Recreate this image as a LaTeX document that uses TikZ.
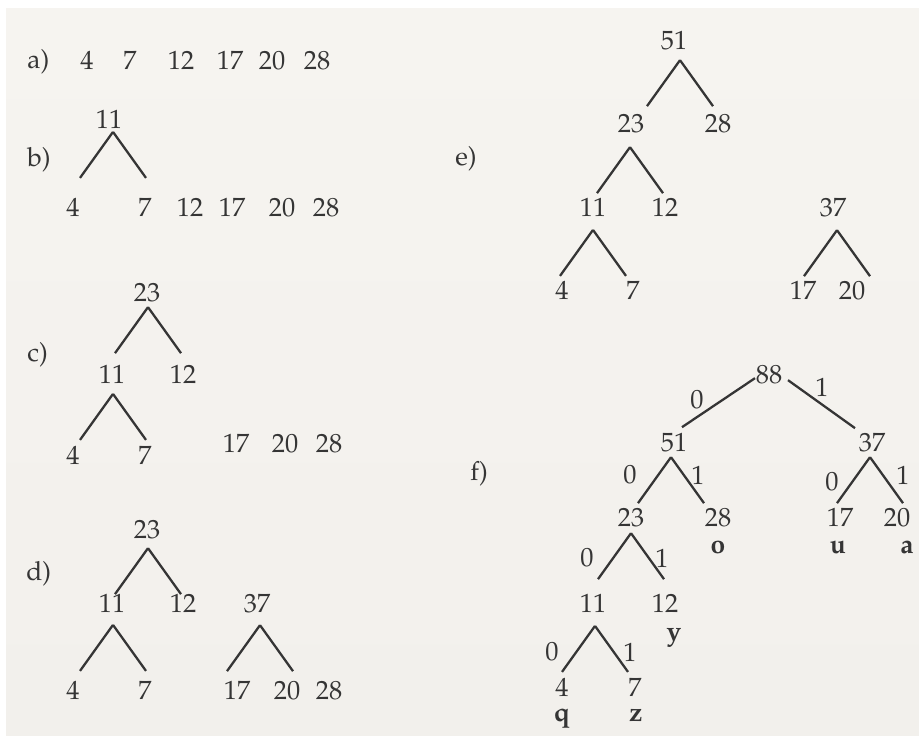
\documentclass[tikz,border=0pt]{standalone}
\usepackage[T1]{fontenc}
\usepackage{mathpazo}
\definecolor{ink}{HTML}{353535}
\definecolor{paperTop}{HTML}{F6F4F0}
\definecolor{paperMid}{HTML}{E7E5E1}
\definecolor{paperBot}{HTML}{F2F0EC}
% fork below a parent: node, apex offset dx, dy
\newcommand{\fork}[3]{%
  \draw[edge] ([shift={(#2,#3)}]#1.center) coordinate (#1-top) -- ++(-33,46) coordinate (#1-l)
    (#1-top) -- ++(33,46) coordinate (#1-r);}
\begin{document}
\begin{tikzpicture}[x=0.02cm,y=-0.02cm,font=\fontsize{15}{18}\selectfont,
num/.style={anchor=base,inner sep=0pt,text=ink},
tag/.style={anchor=base west,inner sep=0pt,text=ink},
bit/.style={inner sep=0pt,text=ink},
sym/.style={anchor=base,inner sep=0pt,text=ink,font=\fontsize{15}{18}\selectfont\bfseries},
edge/.style={draw=ink,line width=1.3pt}]
\path[use as bounding box] (0,0) rectangle (919,735);
\fill[white] (0,0) rectangle (919,735);
\shade[top color=paperTop,middle color=paperMid,bottom color=paperBot] (6,8) rectangle (919,735);
% a)
\node[tag] (a) at (27,68) {a)};
\node[num] (a4) at (87,69) {4};
\node[num] (a7) at (130,69) {7};
\node[num] (a12) at (181,69) {12};
\node[num] (a17) at (230,69) {17};
\node[num] (a20) at (272,69) {20};
\node[num] (a28) at (317,69) {28};
% b)
\node[tag] (b) at (27,166) {b)};
\node[num] (b11) at (109,128) {11};
\node[num] (b4) at (73,216) {4};
\node[num] (b7) at (145,216) {7};
\node[num] (b12) at (190,216) {12};
\node[num] (b17) at (232,216) {17};
\node[num] (b20) at (282,216) {20};
\node[num] (b28) at (326,216) {28};
\fork{b11}{4}{13}
% c)
\node[tag] (c) at (27,361) {c)};
\node[num] (c23) at (147,301) {23};
\node[num] (c11) at (112,383) {11};
\node[num] (c12) at (183,383) {12};
\node[num] (c4) at (73,464) {4};
\node[num] (c7) at (145,464) {7};
\node[num] (c17) at (236,452) {17};
\node[num] (c20) at (285,452) {20};
\node[num] (c28) at (329,452) {28};
\fork{c23}{1}{15}
\fork{c11}{1}{20}
% d)
\node[tag] (d) at (26,580) {d)};
\node[num] (d23) at (147,538) {23};
\node[num] (d11) at (112,612) {11};
\node[num] (d12) at (183,612) {12};
\node[num] (d37) at (257,612) {37};
\node[num] (d4) at (73,699) {4};
\node[num] (d7) at (145,699) {7};
\node[num] (d17) at (237,699) {17};
\node[num] (d20) at (287,699) {20};
\node[num] (d28) at (329,699) {28};
\fork{d23}{1}{19}
\fork{d11}{1}{22}
\fork{d37}{3}{22}
% e)
\node[tag] (e) at (455,165) {e)};
\node[num] (e51) at (674,49) {51};
\node[num] (e23) at (631,132) {23};
\node[num] (e28) at (718,132) {28};
\node[num] (e11) at (593,216) {11};
\node[num] (e12) at (665,216) {12};
\node[num] (e37) at (833,216) {37};
\node[num] (e4) at (562,299) {4};
\node[num] (e7) at (633,299) {7};
\node[num] (e17) at (803,299) {17};
\node[num] (e20) at (852,299) {20};
\fork{e51}{6}{20}
\fork{e23}{-1}{24}
\fork{e11}{0}{23}
\fork{e37}{4}{23}
% f)
\node[tag] (f) at (470,480) {f)};
\node[num] (f88) at (769,383) {88};
\node[num] (f51) at (674,451) {51};
\node[num] (f37) at (872,451) {37};
\node[num] (f23) at (631,526) {23};
\node[num] (f28) at (718,526) {28};
\node[num] (f17) at (840,526) {17};
\node[num] (f20) at (897,526) {20};
\node[num] (f11) at (593,612) {11};
\node[num] (f12) at (665,612) {12};
\node[num] (f4) at (562,696) {4};
\node[num] (f7) at (635,696) {7};
\node[sym] (fo) at (718,553) {o};
\node[sym] (fu) at (838,553) {u};
\node[sym] (fa) at (907,553) {a};
\node[sym] (fy) at (674,640) {y};
\node[sym] (fq) at (562,721) {q};
\node[sym] (fz) at (636,721) {z};
\draw[edge] ([shift={(-14,4)}]f88.center) -- ([shift={(8,-15)}]f51.center);
\draw[edge] ([shift={(19,6)}]f88.center) -- ([shift={(-17,-14)}]f37.center);
\fork{f51}{-3}{15}
\fork{f37}{-2}{15}
\fork{f23}{0}{16}
\fork{f11}{2}{23}
\node[bit] (b88l) at (697,400) {0};
\node[bit] (b88r) at (822,387) {1};
\node[bit] (b51l) at (630,475) {0};
\node[bit] (b51r) at (698,475) {1};
\node[bit] (b37l) at (832,482) {0};
\node[bit] (b37r) at (903,475) {1};
\node[bit] (b23l) at (587,558) {0};
\node[bit] (b23r) at (662,558) {1};
\node[bit] (b11l) at (552,652) {0};
\node[bit] (b11r) at (630,652) {1};
\end{tikzpicture}
\end{document}
